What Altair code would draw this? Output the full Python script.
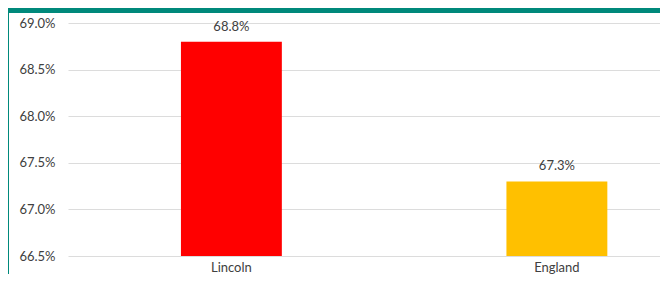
import altair as alt
import pandas as pd

areas = ["Lincoln", "England"]
rates = [0.688, 0.673]
colors = ["#FF0000", "#FFC000"]
y_ticks = [0.665, 0.670, 0.675, 0.680, 0.685, 0.690]
y_min, y_max = 0.665, 0.690

df = pd.DataFrame({"area": areas, "rate": rates, "color": colors, "base": [y_min] * len(areas)})

W, H = 592, 233
TEXT = "#404040"
FONT = "Lato"
TEAL = "#00897B"

xs = alt.X("area:N", sort=areas, title=None,
           scale=alt.Scale(paddingInner=0.69, paddingOuter=0.2544, align=0.682),
           axis=alt.Axis(labelAngle=0, ticks=False, domain=False, labelPadding=5,
                         labelFont=FONT, labelFontSize=13, labelColor=TEXT))
ys = alt.Y("rate:Q", title=None,
           scale=alt.Scale(domain=[y_min, y_max], nice=False, zero=False),
           axis=alt.Axis(values=y_ticks, format=".1%", ticks=False, domain=False,
                         grid=True, gridColor="#dcdcdc", gridWidth=1.2, labelPadding=13,
                         labelFont=FONT, labelFontSize=13, labelColor=TEXT))

top_strip = alt.Chart(alt.Data(values=[{"k": 1}])).mark_rect(color=TEAL).encode(
    x=alt.value(-60), x2=alt.value(W), y=alt.value(-15), y2=alt.value(-10)
)
left_strip = alt.Chart(alt.Data(values=[{"k": 1}])).mark_rect(color=TEAL).encode(
    x=alt.value(-60), x2=alt.value(-59), y=alt.value(-15), y2=alt.value(H + 18)
)

bars = alt.Chart(df).mark_bar().encode(
    x=xs, y=ys, y2="base:Q", color=alt.Color("color:N", scale=None)
)
labels = alt.Chart(df).mark_text(baseline="alphabetic", dy=-11, font=FONT, fontSize=13, color=TEXT).encode(
    x=alt.X("area:N", sort=areas), y="rate:Q", text=alt.Text("rate:Q", format=".1%")
)

chart = alt.layer(bars, labels, top_strip, left_strip).properties(
    width=W, height=H,
    background="white",
    padding={"left": 60, "right": 0, "top": 15, "bottom": 18},
    autosize=alt.AutoSizeParams(type="none"),
).configure_view(stroke=None)

chart.save("out.html", embed_options={"renderer": "svg", "actions": False})
